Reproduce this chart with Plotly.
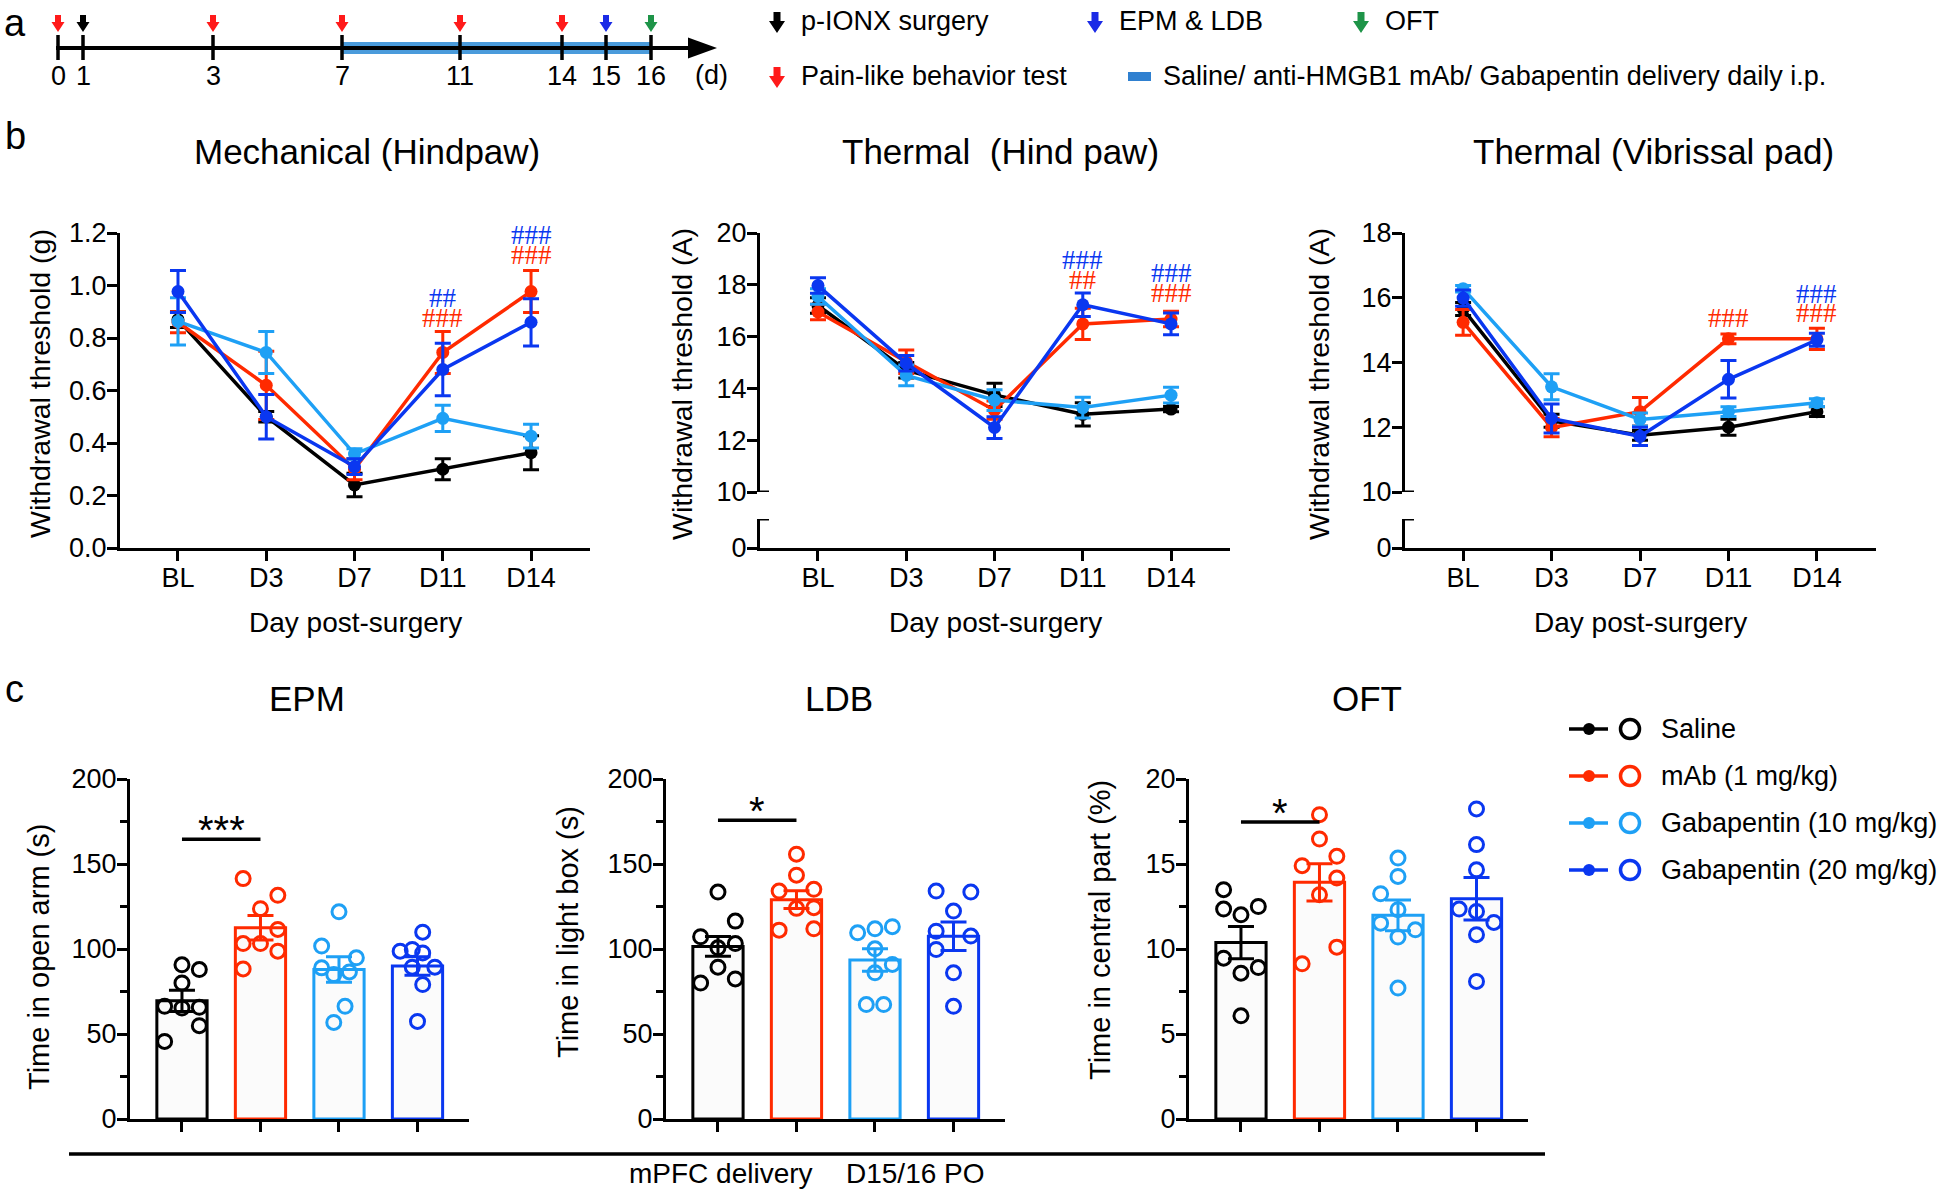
import plotly.graph_objects as go

# ---------------- DATA ----------------
GROUPS = ["Saline", "mAb (1 mg/kg)", "Gabapentin (10 mg/kg)", "Gabapentin (20 mg/kg)"]
DAYS = ["BL", "D3", "D7", "D11", "D14"]

# Panel b1 : Mechanical (Hindpaw), withdrawal threshold (g)
mech_saline = [0.87, 0.50, 0.24, 0.30, 0.363]
mech_saline_sem = [0.03, 0.02, 0.045, 0.04, 0.065]
mech_mab = [0.86, 0.62, 0.30, 0.745, 0.977]
mech_mab_sem = [0.04, 0.13, 0.04, 0.08, 0.08]
mech_g10 = [0.863, 0.745, 0.358, 0.494, 0.426]
mech_g10_sem = [0.09, 0.08, 0.02, 0.05, 0.045]
mech_g20 = [0.977, 0.50, 0.31, 0.68, 0.86]
mech_g20_sem = [0.08, 0.085, 0.03, 0.10, 0.09]

# Panel b2 : Thermal (Hind paw), withdrawal threshold (A)
thp_saline = [17.2, 14.7, 13.75, 13.0, 13.2]
thp_saline_sem = [0.3, 0.3, 0.45, 0.45, 0.1]
thp_mab = [16.95, 15.03, 13.16, 16.49, 16.68]
thp_mab_sem = [0.3, 0.45, 0.35, 0.6, 0.3]
thp_g10 = [17.55, 14.5, 13.55, 13.26, 13.74]
thp_g10_sem = [0.3, 0.4, 0.4, 0.4, 0.3]
thp_g20 = [17.97, 14.97, 12.49, 17.23, 16.49]
thp_g20_sem = [0.3, 0.3, 0.42, 0.45, 0.42]

# Panel b3 : Thermal (Vibrissal pad), withdrawal threshold (A)
tvp_saline = [15.65, 12.2, 11.75, 12.0, 12.48]
tvp_saline_sem = [0.2, 0.2, 0.15, 0.25, 0.15]
tvp_mab = [15.24, 11.99, 12.48, 14.73, 14.73]
tvp_mab_sem = [0.4, 0.28, 0.44, 0.15, 0.33]
tvp_g10 = [16.28, 13.25, 12.24, 12.48, 12.76]
tvp_g10_sem = [0.1, 0.4, 0.2, 0.15, 0.12]
tvp_g20 = [15.99, 12.27, 11.72, 13.48, 14.70]
tvp_g20_sem = [0.25, 0.45, 0.28, 0.58, 0.2]

# Panel c : bar means / SEM
epm_mean = [69.5, 112.5, 88.0, 90.0]
epm_sem = [6.2, 7.2, 7.5, 5.5]
ldb_mean = [101.5, 129.0, 93.5, 107.5]
ldb_sem = [5.8, 5.2, 6.6, 8.4]
oft_mean = [10.38, 13.92, 11.98, 12.95]
oft_sem = [0.95, 1.09, 0.9, 1.25]

# Panel c : individual animals
epm_saline = [90.7, 87.9, 80.0, 66.3, 65.3, 65.7, 54.9, 45.6]
epm_mab = [141.4, 131.6, 123.7, 111.5, 103.2, 103.2, 98.7, 88.3]
epm_g10 = [121.9, 101.7, 94.8, 88.9, 86.5, 85.0, 66.3, 56.8]
epm_g20 = [109.9, 98.7, 99.7, 97.7, 89.3, 89.3, 79.1, 57.4]
ldb_saline = [133.5, 116.4, 107.2, 100.7, 103.2, 89.3, 80.0, 82.4]
ldb_mab = [155.8, 143.4, 134.1, 135.1, 123.9, 124.3, 111.1, 111.9]
ldb_g10 = [109.5, 111.9, 113.1, 100.1, 90.9, 86.0, 67.3, 67.3]
ldb_g20 = [134.1, 133.5, 122.3, 110.5, 107.6, 99.7, 86.0, 66.3]
oft_saline = [13.49, 12.35, 12.50, 12.01, 9.46, 8.91, 8.58, 6.07]
oft_mab = [17.90, 16.47, 14.90, 15.45, 14.17, 13.19, 9.13, 10.11]
oft_g10 = [15.35, 14.27, 13.25, 12.31, 11.52, 11.13, 10.70, 7.70]
oft_g20 = [18.24, 16.14, 14.66, 12.35, 12.21, 11.56, 10.84, 8.09]

# Timeline (panel a)
TL_DAYS = ["0", "1", "3", "7", "11", "14", "15", "16"]
TL_EVENTS = ["pain", "surgery", "pain", "pain", "pain", "pain", "epm", "oft"]

# ---------------- LAYOUT / STYLE ----------------
W, H = 1944, 1193
FONT = "Liberation Sans, Arial, Helvetica, sans-serif"
SERIF = "Liberation Serif, Times New Roman, serif"
COLORS = ["#000000", "#FF2A00", "#1EA0F5", "#0A37F0"]
EVENT_COLORS = {"pain": "#FF1A1A", "surgery": "#000000", "epm": "#1B2BE6", "oft": "#1E9448"}
TL_PX = [58, 83, 213, 342, 460, 562, 606, 651]   # schematic positions of timeline ticks
JIT = 0.221  # beeswarm column step (category units)

jit_epm = [[0, 1, 0, -1, 0, 1, 1, -1], [-1, 1, 0, 1, -1, 0, 1, -1],
           [0, -1, 1, -1, 0.6, -0.3, 0.35, -0.3], [0.3, -1, -0.3, 0.3, 1, -0.3, 0.3, 0]]
jit_ldb = [[0, 1, -1, 0, 1, 0, -1, 1], [0, 0, -1, 1, 0, 1, -1, 1],
           [-1, 0, 1, 0, 1, 0, -0.5, 0.5], [-1, 1, 0, -1, 1, -1, 0, 0]]
jit_oft = [[-1, -1, 1, 0, -1, 1, 0, 0], [0, 0, -1, 1, 1, 0, -1, 1],
           [0, 0, -1, 0, -1, 1, 0, 0], [0, 0, 0, -1, 0, 1, 0, 0]]


def fx(p):
    return p / W


def fy(p):
    return 1 - p / H


fig = go.Figure()
annotations = []
shapes = []


def text(x, y, s, size=27, color="black", xanchor="center", yanchor="middle", angle=0, family=FONT):
    annotations.append(dict(x=fx(x), y=fy(y), xref="paper", yref="paper", text=s, showarrow=False,
                            font=dict(family=family, size=size, color=color), xanchor=xanchor,
                            yanchor=yanchor, textangle=angle))


def axis_common():
    return dict(showline=True, linecolor="black", linewidth=3, ticks="outside", ticklen=10,
                tickwidth=3, tickcolor="black", showgrid=False, zeroline=False, fixedrange=True,
                automargin=False, tickfont=dict(family=FONT, size=27, color="black"))


def yaxis_common():
    return dict(axis_common(), ticklabelstandoff=-5)


layout_axes = {}
XR_B = [-0.657, 4.668]
XR_C = [-0.662, 3.656]
DAY_IDX = list(range(len(DAYS)))


def fmt_ticks(vals, f):
    return [f.format(v) for v in vals]


# ---- b1
layout_axes["xaxis"] = dict(axis_common(), domain=[fx(120), fx(590)], range=XR_B, tickvals=DAY_IDX,
                            ticktext=DAYS, anchor="y", ticklabelstandoff=-6)
yt = [0, 0.2, 0.4, 0.6, 0.8, 1.0, 1.2]
layout_axes["yaxis"] = dict(yaxis_common(), domain=[fy(548), fy(233)], range=[0, 1.2], tickvals=yt,
                            ticktext=fmt_ticks(yt, "{:.1f}"), anchor="x")
# ---- b2 (broken axis)
layout_axes["xaxis2"] = dict(axis_common(), domain=[fx(760), fx(1230)], range=XR_B, tickvals=DAY_IDX,
                             ticktext=DAYS, anchor="y2", ticklabelstandoff=-6)
layout_axes["yaxis2"] = dict(yaxis_common(), domain=[fy(548), fy(519)], range=[0, 1], tickvals=[0],
                             ticktext=["0"], anchor="x2")
layout_axes["yaxis3"] = dict(yaxis_common(), domain=[fy(492), fy(233)], range=[10, 20],
                             tickvals=[10, 12, 14, 16, 18, 20], anchor="x2")
# ---- b3 (broken axis)
layout_axes["xaxis3"] = dict(axis_common(), domain=[fx(1405), fx(1876)], range=XR_B, tickvals=DAY_IDX,
                             ticktext=DAYS, anchor="y4", ticklabelstandoff=-6)
layout_axes["yaxis4"] = dict(yaxis_common(), domain=[fy(548), fy(519)], range=[0, 1], tickvals=[0],
                             ticktext=["0"], anchor="x3")
layout_axes["yaxis5"] = dict(yaxis_common(), domain=[fy(492), fy(233)], range=[10, 18],
                             tickvals=[10, 12, 14, 16, 18], anchor="x3")
# ---- c panels
for xa, ya, x0, rng, dt, mdt in [("xaxis4", "yaxis6", 130, 200, 50, 25),
                                  ("xaxis5", "yaxis7", 666, 200, 50, 25),
                                  ("xaxis6", "yaxis8", 1189, 20, 5, 2.5)]:
    layout_axes[xa] = dict(axis_common(), domain=[fx(x0), fx(x0 + 339)], range=XR_C,
                           tickvals=[0, 1, 2, 3], showticklabels=False, anchor="y" + ya[5:])
    layout_axes[ya] = dict(yaxis_common(), domain=[fy(1119), fy(779)], range=[0, rng], tick0=0,
                           dtick=dt, anchor="x" + xa[5:],
                           minor=dict(ticks="outside", ticklen=7, tickwidth=3, tickcolor="black",
                                      dtick=mdt, tick0=0, showgrid=False))


# ---------------- TRACES: panel b ----------------
def add_line_panel(xa, ya, series):
    for mean, sem, color in series:
        fig.add_trace(go.Scatter(
            x=DAY_IDX, y=mean, mode="lines+markers",
            error_y=dict(type="data", array=sem, visible=True, color=color, thickness=3, width=8),
            line=dict(color=color, width=3.5), marker=dict(color=color, size=13),
            xaxis=xa, yaxis=ya, showlegend=False, cliponaxis=False, hoverinfo="skip"))


add_line_panel("x", "y", [(mech_saline, mech_saline_sem, COLORS[0]), (mech_mab, mech_mab_sem, COLORS[1]),
                          (mech_g10, mech_g10_sem, COLORS[2]), (mech_g20, mech_g20_sem, COLORS[3])])
add_line_panel("x2", "y3", [(thp_saline, thp_saline_sem, COLORS[0]), (thp_mab, thp_mab_sem, COLORS[1]),
                            (thp_g10, thp_g10_sem, COLORS[2]), (thp_g20, thp_g20_sem, COLORS[3])])
add_line_panel("x3", "y5", [(tvp_saline, tvp_saline_sem, COLORS[0]), (tvp_mab, tvp_mab_sem, COLORS[1]),
                            (tvp_g10, tvp_g10_sem, COLORS[2]), (tvp_g20, tvp_g20_sem, COLORS[3])])

# break marks for broken axes
for xa, yu, yl in [("x2", "y3", "y2"), ("x3", "y5", "y4")]:
    shapes.append(dict(type="line", xref=xa, yref=yu, xsizemode="pixel", xanchor=XR_B[0],
                       x0=0, x1=9, y0=10, y1=10, line=dict(color="black", width=3)))
    shapes.append(dict(type="line", xref=xa, yref=yl, xsizemode="pixel", xanchor=XR_B[0],
                       x0=0, x1=9, y0=1, y1=1, line=dict(color="black", width=3)))


# significance hashes
def hashes(xa, ya, xi, yv, s, color):
    annotations.append(dict(x=xi, y=yv, xref=xa, yref=ya, text=s, showarrow=False,
                            font=dict(family=SERIF, size=27, color=color)))


hashes("x", "y", 3, 0.952, "##", COLORS[3])
hashes("x", "y", 3, 0.876, "###", COLORS[1])
hashes("x", "y", 4, 1.192, "###", COLORS[3])
hashes("x", "y", 4, 1.116, "###", COLORS[1])
hashes("x2", "y3", 3, 18.96, "###", COLORS[3])
hashes("x2", "y3", 3, 18.19, "##", COLORS[1])
hashes("x2", "y3", 4, 18.44, "###", COLORS[3])
hashes("x2", "y3", 4, 17.67, "###", COLORS[1])
hashes("x3", "y5", 3, 15.36, "###", COLORS[1])
hashes("x3", "y5", 4, 16.13, "###", COLORS[3])
hashes("x3", "y5", 4, 15.52, "###", COLORS[1])


# ---------------- TRACES: panel c ----------------
def add_bar_panel(xa, ya, means, sems, pts, jits):
    for i, (m, s, c) in enumerate(zip(means, sems, COLORS)):
        fig.add_trace(go.Bar(x=[i], y=[m], width=0.64,
                             marker=dict(color="#FBFBFB", line=dict(color=c, width=3)),
                             error_y=dict(type="data", array=[s], visible=True, color=c, thickness=3, width=13),
                             xaxis=xa, yaxis=ya, showlegend=False, hoverinfo="skip"))
    for i, (p, j, c) in enumerate(zip(pts, jits, COLORS)):
        fig.add_trace(go.Scatter(x=[i + k * JIT for k in j], y=p, mode="markers",
                                 marker=dict(symbol="circle-open", size=14, color=c, line=dict(width=3, color=c)),
                                 xaxis=xa, yaxis=ya, showlegend=False, cliponaxis=False, hoverinfo="skip"))


add_bar_panel("x4", "y6", epm_mean, epm_sem, [epm_saline, epm_mab, epm_g10, epm_g20], jit_epm)
add_bar_panel("x5", "y7", ldb_mean, ldb_sem, [ldb_saline, ldb_mab, ldb_g10, ldb_g20], jit_ldb)
add_bar_panel("x6", "y8", oft_mean, oft_sem, [oft_saline, oft_mab, oft_g10, oft_g20], jit_oft)

# significance bars
for xa, ya, yv, star in [("x4", "y6", 164.6, "***"), ("x5", "y7", 175.8, "*"), ("x6", "y8", 17.47, "*")]:
    shapes.append(dict(type="line", xref=xa, yref=ya, x0=0, x1=1, y0=yv, y1=yv,
                       line=dict(color="black", width=3.5)))
    annotations.append(dict(x=0.5, y=yv, xref=xa, yref=ya, text=star, showarrow=False, yanchor="bottom",
                            yshift=-15, font=dict(family=FONT, size=40, color="black")))

# ---------------- PANEL a : timeline ----------------
AY = 48
shapes.append(dict(type="rect", xref="paper", yref="paper", x0=fx(TL_PX[3]), x1=fx(TL_PX[-1]),
                   y0=fy(54), y1=fy(42), fillcolor="#4A9BDB", line=dict(width=0)))
shapes.append(dict(type="line", xref="paper", yref="paper", x0=fx(56), x1=fx(692), y0=fy(AY), y1=fy(AY),
                   line=dict(color="black", width=4)))
shapes.append(dict(type="path", xref="paper", yref="paper", xsizemode="pixel", ysizemode="pixel",
                   xanchor=fx(717), yanchor=fy(AY), path="M 0,0 L -29,10.5 L -29,-10.5 Z",
                   fillcolor="black", line=dict(width=0)))
ARROW = "M 0,0 L -6.5,10 L -3,10 L -3,17 L 3,17 L 3,10 L 6.5,10 Z"
ARROW_BIG = "M 0,0 L -8,12 L -3.5,12 L -3.5,21 L 3.5,21 L 3.5,12 L 8,12 Z"
for xp, d, ev in zip(TL_PX, TL_DAYS, TL_EVENTS):
    shapes.append(dict(type="line", xref="paper", yref="paper", x0=fx(xp), x1=fx(xp), y0=fy(35), y1=fy(60),
                       line=dict(color="black", width=3.5)))
    shapes.append(dict(type="path", xref="paper", yref="paper", xsizemode="pixel", ysizemode="pixel",
                       xanchor=fx(xp), yanchor=fy(32), path=ARROW, fillcolor=EVENT_COLORS[ev],
                       line=dict(width=0)))
    text(xp, 76, d, size=27)
text(711, 75, "(d)", size=27)

# timeline legend
for xa, ya, ev, label in [(777, 33, "surgery", "p-IONX surgery"), (1095, 33, "epm", "EPM &amp; LDB"),
                          (1361, 33, "oft", "OFT"), (777, 88, "pain", "Pain-like behavior test")]:
    shapes.append(dict(type="path", xref="paper", yref="paper", xsizemode="pixel", ysizemode="pixel",
                       xanchor=fx(xa), yanchor=fy(ya), path=ARROW_BIG, fillcolor=EVENT_COLORS[ev],
                       line=dict(width=0)))
    text(xa + 22, ya - 12, label, size=27, xanchor="left")
shapes.append(dict(type="rect", xref="paper", yref="paper", x0=fx(1128), x1=fx(1151), y0=fy(81), y1=fy(72),
                   fillcolor="#2F80D0", line=dict(width=0)))
text(1161, 76, "Saline/ anti-HMGB1 mAb/ Gabapentin delivery daily i.p.", size=27, xanchor="left")

# ---------------- labels ----------------
text(15, 0, "a", size=38, yanchor="top")
text(15, 136, "b", size=38)
text(14, 689, "c", size=38)

text(367, 151, "Mechanical (Hindpaw)", size=35)
text(1000, 151, "Thermal\u00a0 (Hind paw)", size=35)
text(1653, 151, "Thermal (Vibrissal pad)", size=35)
for xc in [355, 995, 1640]:
    text(xc, 623, "Day post-surgery", size=28)
text(40, 384, "Withdrawal threshold (g)", size=28.5, angle=-90)
text(682, 384, "Withdrawal threshold (A)", size=28.5, angle=-90)
text(1319, 384, "Withdrawal threshold (A)", size=28.5, angle=-90)

text(307, 698, "EPM", size=35)
text(839, 698, "LDB", size=35)
text(1367, 698, "OFT", size=35)
text(39, 957, "Time in open arm (s)", size=29, angle=-90)
text(568, 932, "Time in light box (s)", size=29, angle=-90)
text(1100, 930, "Time in central part (%)", size=29, angle=-90)

shapes.append(dict(type="line", xref="paper", yref="paper", x0=fx(69), x1=fx(1545), y0=fy(1154), y1=fy(1154),
                   line=dict(color="black", width=3.5)))
text(721, 1173, "mPFC delivery", size=28)
text(915, 1173, "D15/16 PO", size=28)

# group legend
for k, (g, c) in enumerate(zip(GROUPS, COLORS)):
    yy = 729 + 47 * k
    shapes.append(dict(type="line", xref="paper", yref="paper", x0=fx(1569), x1=fx(1608), y0=fy(yy), y1=fy(yy),
                       line=dict(color=c, width=3.5)))
    shapes.append(dict(type="circle", xref="paper", yref="paper", xsizemode="pixel", ysizemode="pixel",
                       xanchor=fx(1589), yanchor=fy(yy), x0=-6, x1=6, y0=-6, y1=6, fillcolor=c,
                       line=dict(width=0)))
    shapes.append(dict(type="circle", xref="paper", yref="paper", xsizemode="pixel", ysizemode="pixel",
                       xanchor=fx(1630), yanchor=fy(yy), x0=-9.5, x1=9.5, y0=-9.5, y1=9.5,
                       fillcolor="rgba(0,0,0,0)", line=dict(color=c, width=3.5)))
    text(1659, yy, g, size=27, xanchor="left")

fig.update_layout(
    template="none",
    width=W, height=H, autosize=False, margin=dict(l=0, r=0, t=0, b=0, pad=0, autoexpand=False),
    paper_bgcolor="white", plot_bgcolor="rgba(0,0,0,0)", barmode="overlay",
    showlegend=False, font=dict(family=FONT, color="black"),
    annotations=annotations, shapes=shapes, **layout_axes)

fig.write_html("out.html", config={"displayModeBar": False, "staticPlot": True},
               post_script="document.body.style.margin='0';document.body.style.padding='0';"
                           "document.body.style.overflow='hidden';")
